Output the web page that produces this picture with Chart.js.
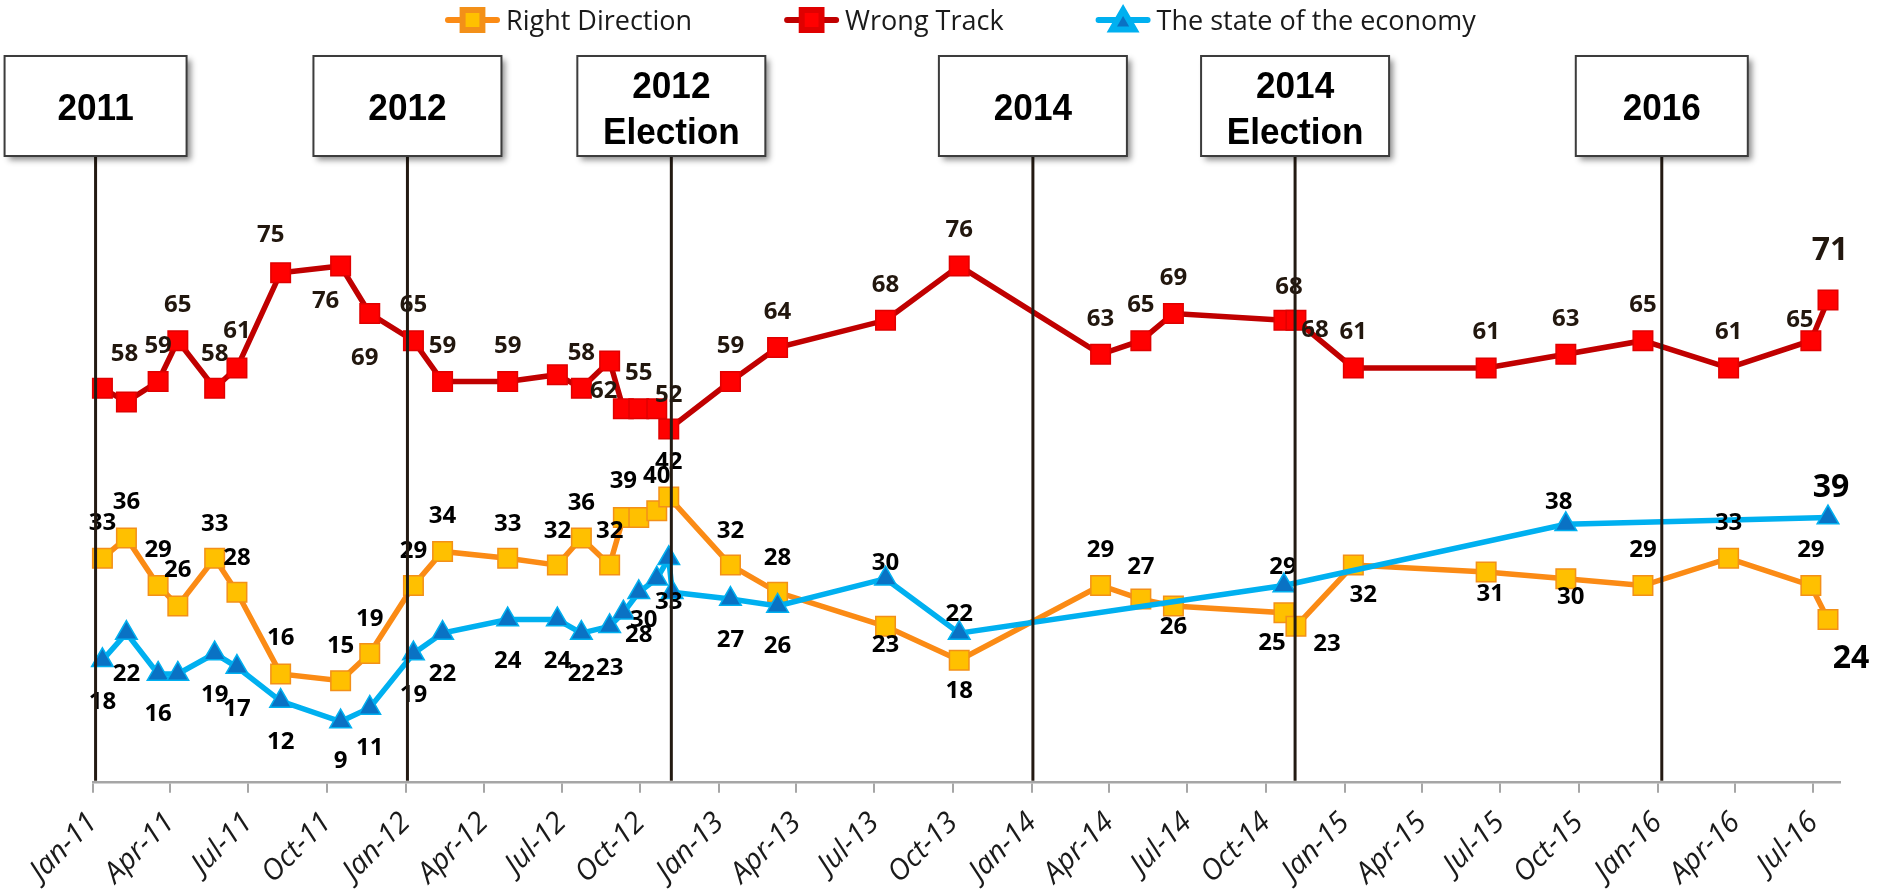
<!DOCTYPE html>
<html><head><meta charset="utf-8">
<script src="https://cdn.jsdelivr.net/npm/chart.js@4.4.1/dist/chart.umd.min.js"></script>
<style>html,body{margin:0;padding:0;background:#fff;}#wrap{width:1880px;height:892px;position:relative;}</style>
</head><body><div id="wrap"><canvas id="c" width="1880" height="892"></canvas></div>
<script>
// ---------- DATA ----------
const pollDates = ['2011-01-12','2011-02-09','2011-03-18','2011-04-10','2011-05-23','2011-06-18','2011-08-08','2011-10-17','2011-11-20','2012-01-10',
  '2012-02-13','2012-04-29','2012-06-26','2012-07-24','2012-08-26','2012-09-11','2012-09-29','2012-10-20','2012-11-03','2012-11-07',
  '2013-01-14','2013-03-10','2013-07-14','2013-10-08','2014-03-22','2014-05-08','2014-06-15','2014-10-22','2014-11-05','2015-01-11',
  '2015-06-15','2015-09-16','2015-12-15','2016-03-24','2016-06-28','2016-07-18'];
const rightDirection = [33,36,29,26,33,28,16,15,19,29, 34,33,32,36,32,39,39,40,42,null, 32,28,23,18,29,27,26,25,23,32, 31,30,29,33,29,24];
const wrongTrack =     [58,56,59,65,58,61,75,76,69,65, 59,59,60,58,62,55,55,55,52,null, 59,64,68,76,63,65,69,68,68,61, 61,63,65,61,65,71];
const economy =        [18,22,16,16,19,17,12,9,11,19, 22,24,24,22,23,25,28,30,33,28, 27,26,30,22,null,null,null,29,null,null, null,38,null,null,null,39];
const seriesNames = ['Right Direction','Wrong Track','The state of the economy'];
const tickLabels = ['Jan-11','Apr-11','Jul-11','Oct-11','Jan-12','Apr-12','Jul-12','Oct-12','Jan-13','Apr-13','Jul-13','Oct-13',
  'Jan-14','Apr-14','Jul-14','Oct-14','Jan-15','Apr-15','Jul-15','Oct-15','Jan-16','Apr-16','Jul-16'];
const axisStart = '2011-01-01';
const axisEnd = '2016-08-01';
const eventLabels = [['2011'],['2012'],['2012','Election'],['2014'],['2014','Election'],['2016']];
const eventDates = ['2011-01-04','2012-01-03','2012-11-06','2014-01-02','2014-11-04','2016-01-06'];

// ---------- LABEL LAYOUT (offsets of value labels from their points, px) ----------
const wtLabelPos = [[22,-36],null,[0,-37],[0,-37],[0,-36],[0,-38],[-10,-39],[-15,34],[-5,43],[0,-37],
  [0,-37],[0,-37],null,[0,-37],[-6,28],null,[0,-37],null,[0,-36],null,
  [0,-37],[0,-37],[0,-37],[0,-37],[0,-37],[0,-37],[0,-37],[5,-35],[19,8],[0,-37],
  [0,-37],[0,-37],[0,-37],[0,-37],[-11,-22],[2,-51]];
const rdLabelPos = [[0,-37],[0,-37],[0,-37],[0,-37],[0,-36],[0,-36],[0,-37],[0,-36],[0,-36],[0,-36],
  [0,-37],[0,-36],[0,-36],[0,-36],[0,-36],[0,-38],null,[0,-36],[0,-37],null,
  [0,-36],[0,-36],[0,17],[0,29],[0,-37],[0,-34],[0,20],[-12,29],[31,16],[10,28],
  [4,21],[5,17],[0,-37],[0,-37],[0,-37],[23,37]];
const ecLabelPos = [[0,40],[0,39],[0,39],null,[0,40],[0,40],[0,39],[0,38],[0,39],[0,40],
  [0,39],[0,40],[0,40],[0,39],[0,40],null,[0,41],[-13,40],[0,42],null,
  [0,39],[0,39],[0,-17],[0,-21],null,null,null,[-1,-20],null,null,
  null,[-7,-24],null,null,null,[3,-32]];
const boxWidths = [182,188,188,188,188,172];

// ---------- helpers ----------
const MS_DAY = 86400000;
function utc(s){ const [y,m,d] = s.split('-').map(Number); return Date.UTC(y,m-1,d); }
const T0 = utc(axisStart);
function dayOf(s){ return (utc(s)-T0)/MS_DAY; }
const MONTHS = {Jan:1,Feb:2,Mar:3,Apr:4,May:5,Jun:6,Jul:7,Aug:8,Sep:9,Oct:10,Nov:11,Dec:12};
function tickDay(lbl){ const [mn,yy] = lbl.split('-'); const m = MONTHS[mn]; return dayOf((2000+Number(yy))+'-'+String(m).padStart(2,'0')+'-01'); }
const tickDays = tickLabels.map(tickDay);
function pts(vals){ return pollDates.map((d,i)=>({x:dayOf(d), y:vals[i]})); }

const STY = {
  rd: {line:'#fb8b15', fill:'#ffc000', border:'#f39018'},
  wt: {line:'#c00000', fill:'#ff0000', border:'#e00000'},
  ec: {line:'#00b0f0', fill:'#0a72c4', border:'#00b0f0'}
};
const LABEL_FONT = 'bold 24px "Open Sans"';
const BIG_FONT = 'bold 32px "Open Sans"';

const valueLabels = {
  id:'valueLabels',
  afterDatasetsDraw(chart){
    const ctx = chart.ctx;
    chart.data.datasets.forEach((ds,di)=>{
      const meta = chart.getDatasetMeta(di);
      const n = ds.data.length;
      meta.data.forEach((el,i)=>{
        const v = ds.data[i].y; if (v==null) return;
        const o = ds.labelPos[i]; if (!o) return;
        const big = (i===n-1);
        const fs = big?32:24;
        ctx.save();
        ctx.font = big?BIG_FONT:LABEL_FONT;
        ctx.fillStyle = ds.labelColor;
        ctx.textAlign = 'center';
        ctx.textBaseline = 'alphabetic';
        ctx.fillText(String(v), el.x + o[0], el.y + o[1] + fs*0.714/2);
        ctx.restore();
      });
    });
  }
};

const events = {
  id:'events',
  afterDatasetsDraw(chart){
    const ctx = chart.ctx, xs = chart.scales.x, area = chart.chartArea;
    const boxTop = 56, boxH = 100;
    eventDates.forEach((d,i)=>{
      const x = xs.getPixelForValue(dayOf(d));
      ctx.save();
      ctx.strokeStyle = '#231a12'; ctx.lineWidth = 3;
      ctx.beginPath(); ctx.moveTo(x, boxTop+boxH); ctx.lineTo(x, area.bottom - 2); ctx.stroke();
      const w = boxWidths[i];
      const bx = Math.max(2, x - w/2);
      ctx.shadowColor = 'rgba(0,0,0,0.45)'; ctx.shadowBlur = 6; ctx.shadowOffsetX = 4; ctx.shadowOffsetY = 4;
      ctx.fillStyle = '#fff'; ctx.fillRect(bx, boxTop, w, boxH);
      ctx.shadowColor = 'transparent';
      ctx.strokeStyle = '#3c3c3c'; ctx.lineWidth = 2; ctx.strokeRect(bx, boxTop, w, boxH);
      ctx.fillStyle = '#000'; ctx.font = 'bold 37px "Liberation Sans", Arial, sans-serif';
      ctx.textAlign = 'center'; ctx.textBaseline = 'alphabetic';
      const cx = bx + w/2;
      const lines = eventLabels[i];
      ctx.translate(cx, 0); ctx.scale(0.95, 1);
      if (lines.length===1) ctx.fillText(lines[0], 0, 120);
      else { ctx.fillText(lines[0], 0, 98); ctx.fillText(lines[1], 0, 143.5); }
      ctx.restore();
    });
  }
};

const customLegend = {
  id:'customLegend',
  afterDraw(chart){
    const ctx = chart.ctx;
    let x = 445; const y = 20;
    chart.data.datasets.slice().sort((a,b)=>a.legendIndex-b.legendIndex).forEach(ds=>{
      ctx.save();
      ctx.strokeStyle = ds.borderColor; ctx.lineWidth = 6; ctx.lineCap='round';
      ctx.beginPath(); ctx.moveTo(x+3, y); ctx.lineTo(x+52, y); ctx.stroke();
      ctx.fillStyle = ds.pointBackgroundColor; ctx.strokeStyle = ds.pointBorderColor;
      Chart.helpers.drawPoint(ctx, {pointStyle: ds.pointStyle, radius: ds.pointStyle==='triangle'?13:14, rotation:0, borderWidth:1.5}, x+27.5, ds.pointStyle==='triangle'? y+3 : y);
      ctx.font = '27px "Open Sans"'; ctx.fillStyle = '#1a1a1a'; ctx.textAlign='left'; ctx.textBaseline='alphabetic';
      ctx.fillText(ds.label, x+61, 29.5);
      const tw = ctx.measureText(ds.label).width;
      ctx.restore();
      x = x + 61 + tw + 92;
    });
  }
};

new Chart(document.getElementById('c'), {
  type:'line',
  data:{ datasets:[
    {label:seriesNames[1], data:pts(wrongTrack), order:2, legendIndex:1, borderColor:STY.wt.line, borderWidth:5.5,
     pointStyle:'rect', pointRadius:13.8, pointBackgroundColor:STY.wt.fill, pointBorderColor:STY.wt.border, pointBorderWidth:1.5,
     spanGaps:true, tension:0, clip:false, labelPos:wtLabelPos, labelColor:'#22170e'},
    {label:seriesNames[0], data:pts(rightDirection), order:1, legendIndex:0, borderColor:STY.rd.line, borderWidth:5.5,
     pointStyle:'rect', pointRadius:13.8, pointBackgroundColor:STY.rd.fill, pointBorderColor:STY.rd.border, pointBorderWidth:1.5,
     spanGaps:true, tension:0, clip:false, labelPos:rdLabelPos, labelColor:'#000'},
    {label:seriesNames[2], data:pts(economy), order:0, legendIndex:2, borderColor:STY.ec.line, borderWidth:5.5,
     pointStyle:'triangle', pointRadius:12.5, pointBackgroundColor:STY.ec.fill, pointBorderColor:STY.ec.border, pointBorderWidth:1.5,
     spanGaps:true, tension:0, clip:false, labelPos:ecLabelPos, labelColor:'#000'}
  ]},
  options:{
    responsive:false, animation:false, devicePixelRatio:1,
    layout:{padding:{top:102.7, left:93, right:40, bottom:0}},
    plugins:{legend:{display:false}, tooltip:{enabled:false}},
    scales:{
      x:{type:'linear', min:0, max:dayOf(axisEnd),
        afterBuildTicks:(s)=>{ s.ticks = tickDays.map(v=>({value:v})); },
        afterFit:(s)=>{ s.height = 109.3; },
        ticks:{autoSkip:false, minRotation:45, maxRotation:45, padding:13, color:'#1a1a1a',
          font:{family:'"Open Sans"', size:29, style:'italic'},
          callback:(v,i)=> tickLabels[i]},
        grid:{display:true, drawOnChartArea:false, drawTicks:true, tickLength:10, color:'#a6a6a6', lineWidth:2},
        border:{display:true, color:'#a6a6a6', width:2.5}},
      y:{display:false, min:0, max:100}
    }
  },
  plugins:[valueLabels, events, customLegend]
});
</script></body></html>
